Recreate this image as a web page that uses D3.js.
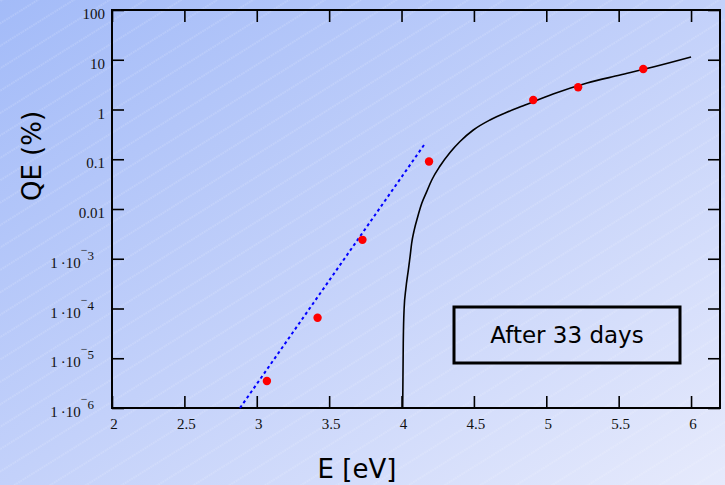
<!DOCTYPE html>
<html><head><meta charset="utf-8">
<script src="https://cdn.jsdelivr.net/npm/d3@7"></script>
<style>body{margin:0;overflow:hidden}svg{display:block}</style>
</head><body>
<svg id="chart" width="725" height="485"></svg>
<script>
// ---- data ----
const pointsE  = [3.07, 3.42, 3.73, 4.19, 4.91, 5.22, 5.67];
const pointsQE = [3.5e-6, 6.5e-5, 2.4e-3, 0.09, 1.55, 2.8, 6.5];

const fitE  = [2.884, 4.155];
const fitQE = [1e-6, 0.193];

const curveE  = [4.008, 4.012, 4.018, 4.030, 4.047, 4.059, 4.070, 4.088, 4.112, 4.140, 4.174, 4.209, 4.266, 4.335, 4.404, 4.496, 4.611, 4.727, 4.841, 5.047, 5.282, 5.510, 5.738, 6.0];
const curveQE = [1e-6, 2.0e-5, 1.0e-4, 2.5e-4, 5.9e-4, 1.1e-3, 2.05e-3, 3.8e-3, 7.0e-3, 0.013, 0.0223, 0.0383, 0.0731, 0.1367, 0.2275, 0.387, 0.615, 0.879, 1.19, 2.05, 3.41, 4.93, 7.14, 11.35];

const xTicks = [2, 2.5, 3, 3.5, 4, 4.5, 5, 5.5, 6];
const xTickLabels = ["2", "2.5", "3", "3.5", "4", "4.5", "5", "5.5", "6"];
const yTicks = [100, 10, 1, 0.1, 0.01, 1e-3, 1e-4, 1e-5, 1e-6];
const yTickLabels = ["100", "10", "1", "0.1", "0.01", "1·10^-3", "1·10^-4", "1·10^-5", "1·10^-6"];

const xTitle = "E [eV]";
const yTitle = "QE (%)";
const noteText = "After 33 days";

// ---- layout ----
const svg = d3.select("#chart");
const W = 725, H = 485;
const L = 112, R = 720, T = 10, B = 408;

const x = d3.scaleLinear().domain([2, 6.2]).range([L, R]);
const y = d3.scaleLog().domain([1e-6, 100]).range([B, T]);

// background
const defs = svg.append("defs");
const grad = defs.append("linearGradient").attr("id", "bg")
  .attr("x1", "0").attr("y1", "0").attr("x2", "1").attr("y2", "1");
grad.append("stop").attr("offset", "0").attr("stop-color", "#a3bbf8");
grad.append("stop").attr("offset", "0.5").attr("stop-color", "#c3d1fa");
grad.append("stop").attr("offset", "1").attr("stop-color", "#e6eafc");
const pat = defs.append("pattern").attr("id", "hatch")
  .attr("patternUnits", "userSpaceOnUse").attr("width", 200).attr("height", 19)
  .attr("patternTransform", "rotate(-32)");
pat.append("line").attr("x1", 0).attr("x2", 200).attr("y1", 1).attr("y2", 1)
  .attr("stroke", "#ffffff").attr("stroke-opacity", 0.4).attr("stroke-width", 0.8)
  .attr("stroke-dasharray", "1.5,1");

svg.append("rect").attr("width", W).attr("height", H).attr("fill", "url(#bg)");
svg.append("rect").attr("width", W).attr("height", H).attr("fill", "url(#hatch)");

// frame
svg.append("rect").attr("x", L).attr("y", T).attr("width", R - L).attr("height", B - T)
  .attr("fill", "none").attr("stroke", "#000").attr("stroke-width", 2);

// axes with inward ticks
const tl = 12;
const gx = svg.append("g").attr("transform", `translate(0,${B})`)
  .call(d3.axisTop(x).tickValues(xTicks).tickSize(tl).tickFormat(""));
const gxt = svg.append("g").attr("transform", `translate(0,${T})`)
  .call(d3.axisBottom(x).tickValues(xTicks).tickSize(tl).tickFormat(""));
const gy = svg.append("g").attr("transform", `translate(${L},0)`)
  .call(d3.axisRight(y).tickValues(yTicks).tickSize(tl).tickFormat(""));
const gyr = svg.append("g").attr("transform", `translate(${R},0)`)
  .call(d3.axisLeft(y).tickValues(yTicks).tickSize(tl).tickFormat(""));
[gx, gxt, gy, gyr].forEach(g => {
  g.select(".domain").remove();
  g.selectAll(".tick line").attr("stroke", "#000").attr("stroke-width", 1.6);
});

// x tick labels
svg.append("g").selectAll("text").data(xTicks).join("text")
  .attr("x", d => x(d) + 2).attr("y", 429)
  .attr("text-anchor", "middle")
  .attr("font-family", "Liberation Serif, serif").attr("font-size", 15).attr("fill", "#111")
  .text((d, i) => xTickLabels[i]);

// y tick labels
const yl = svg.append("g").attr("font-family", "Liberation Serif, serif").attr("fill", "#111");
yTicks.forEach((v, i) => {
  const lab = yTickLabels[i];
  const ty = y(v) + 9;
  if (lab.includes("^")) {
    const [base, ex] = lab.split("^");
    const t = yl.append("text").attr("x", 94).attr("y", ty).attr("text-anchor", "end").attr("font-size", 15);
    t.append("tspan").text(base.replace("·", "\u2009·"));
    t.append("tspan").attr("font-size", 12).attr("dy", -14).text("\u2212");
    t.append("tspan").attr("font-size", 13).attr("dy", 6).text(ex.replace("-", ""));
  } else {
    yl.append("text").attr("x", 105).attr("y", ty).attr("text-anchor", "end")
      .attr("font-size", 15).text(lab);
  }
});

// fitted blue dotted line
const line = d3.line().x(d => x(d[0])).y(d => y(d[1]));
svg.append("path").datum(fitE.map((e, i) => [e, fitQE[i]]))
  .attr("d", line).attr("fill", "none").attr("stroke", "#0000ff")
  .attr("stroke-width", 2).attr("stroke-dasharray", "3,3");

// black curve
svg.append("path").datum(curveE.map((e, i) => [e, curveQE[i]]))
  .attr("d", line.curve(d3.curveMonotoneX)).attr("fill", "none").attr("stroke", "#000")
  .attr("stroke-width", 1.6);

// red points
svg.append("g").selectAll("circle").data(pointsE.map((e, i) => [e, pointsQE[i]])).join("circle")
  .attr("cx", d => x(d[0])).attr("cy", d => y(d[1])).attr("r", 4.2).attr("fill", "#ff0000");

// annotation box
svg.append("rect").attr("x", 454).attr("y", 307).attr("width", 226).attr("height", 56)
  .attr("fill", "none").attr("stroke", "#000").attr("stroke-width", 3);
svg.append("text").attr("x", 567).attr("y", 343).attr("text-anchor", "middle")
  .attr("font-family", "DejaVu Sans, sans-serif").attr("font-size", 23).attr("fill", "#000")
  .text(noteText);

// axis titles
svg.append("text").attr("x", 357).attr("y", 478).attr("text-anchor", "middle")
  .attr("font-family", "DejaVu Sans, sans-serif").attr("font-size", 26).attr("fill", "#000")
  .text(xTitle);
svg.append("text").attr("transform", "translate(41,156) rotate(-90)").attr("text-anchor", "middle")
  .attr("font-family", "DejaVu Sans, sans-serif").attr("font-size", 26).attr("fill", "#000")
  .text(yTitle);
</script>
</body></html>
